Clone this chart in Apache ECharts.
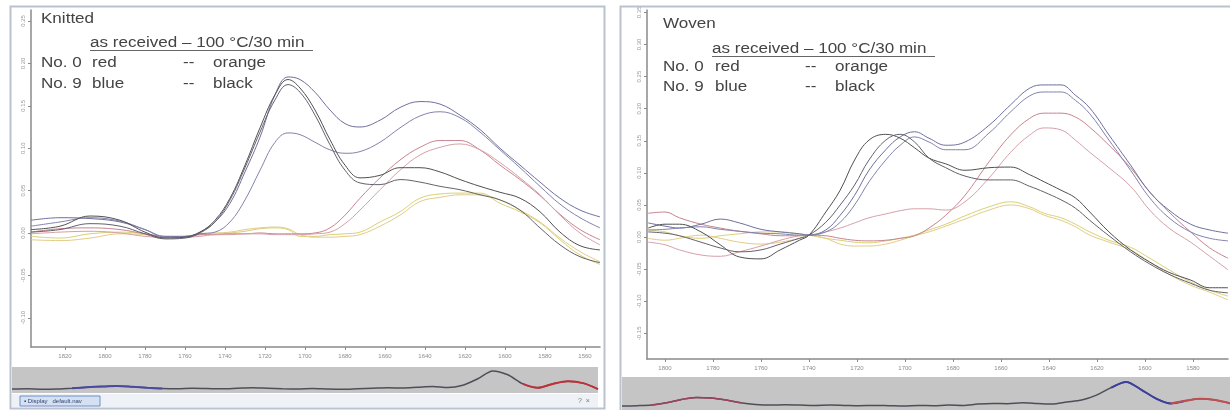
<!DOCTYPE html>
<html><head><meta charset="utf-8">
<script src="https://cdn.jsdelivr.net/npm/echarts@6/dist/echarts.min.js"></script>
<style>html,body{margin:0;padding:0;background:#fff}#c{width:1230px;height:410px}</style>
</head><body><div id="c"></div>
<script>
// ---------- Knitted (left) ----------
const wnKnit = [1837, 1822.5, 1807.5, 1792.5, 1780, 1770, 1760, 1752.5, 1745, 1737.5, 1730, 1722.5, 1715, 1708.5, 1702.5, 1695, 1687.5, 1680, 1672.5, 1662.5, 1652.5, 1642.5, 1632.5, 1622.5, 1612.5, 1602.5, 1592.5, 1582.5, 1572.5, 1562.5, 1552.5];
const knitBlue1 = [0.015, 0.018, 0.017, 0.013, 0.004, -0.004, -0.004, 0.001, 0.013, 0.035, 0.072, 0.113, 0.163, 0.184, 0.181, 0.166, 0.145, 0.129, 0.125, 0.133, 0.148, 0.155, 0.152, 0.139, 0.122, 0.100, 0.080, 0.060, 0.041, 0.027, 0.019];
const knitBlue2 = [0.008, 0.013, 0.018, 0.014, 0.004, -0.005, -0.005, -0.001, 0.001, 0.013, 0.039, 0.074, 0.107, 0.118, 0.116, 0.107, 0.098, 0.094, 0.096, 0.107, 0.124, 0.138, 0.143, 0.136, 0.119, 0.098, 0.077, 0.055, 0.034, 0.018, 0.006];
const knitBlack1 = [0.004, 0.008, 0.020, 0.015, 0.001, -0.006, -0.005, 0.001, 0.015, 0.041, 0.080, 0.124, 0.163, 0.181, 0.171, 0.145, 0.110, 0.080, 0.065, 0.068, 0.077, 0.077, 0.072, 0.063, 0.055, 0.048, 0.041, 0.025, 0.001, -0.015, -0.020];
const knitBlack2 = [0.001, 0.004, 0.011, 0.008, -0.001, -0.007, -0.006, 0, 0.013, 0.039, 0.077, 0.119, 0.157, 0.175, 0.166, 0.139, 0.104, 0.074, 0.059, 0.057, 0.063, 0.060, 0.055, 0.051, 0.045, 0.039, 0.027, 0.006, -0.014, -0.028, -0.035];
const knitRed1 = [0.001, 0.005, 0.006, 0.004, -0.001, -0.004, -0.004, -0.002, -0.002, -0.001, -0.001, 0, -0.001, -0.001, -0.001, 0, 0.006, 0.021, 0.041, 0.065, 0.086, 0.101, 0.109, 0.109, 0.098, 0.080, 0.063, 0.044, 0.022, 0.004, -0.008];
const knitRed2 = [-0.001, 0.001, 0.002, 0, -0.004, -0.005, -0.005, -0.004, -0.002, -0.002, -0.001, -0.001, -0.002, -0.002, -0.002, -0.001, 0.001, 0.011, 0.027, 0.051, 0.074, 0.092, 0.101, 0.105, 0.098, 0.083, 0.065, 0.045, 0.021, 0, -0.014];
const knitOrange1 = [-0.004, -0.006, -0.001, 0.001, -0.001, -0.005, -0.004, -0.002, -0.001, 0, 0.002, 0.005, 0.006, 0.004, -0.004, -0.004, -0.002, -0.001, 0.001, 0.013, 0.025, 0.041, 0.046, 0.047, 0.047, 0.035, 0.025, 0.012, -0.008, -0.026, -0.037];
const knitOrange2 = [-0.008, -0.009, -0.006, -0.001, -0.002, -0.005, -0.004, -0.001, 0, 0.001, 0.004, 0.006, 0.007, 0.005, -0.002, -0.005, -0.005, -0.004, -0.002, 0.008, 0.021, 0.037, 0.042, 0.045, 0.045, 0.039, 0.027, 0.013, -0.006, -0.022, -0.034];
const knitTicksX = [1820, 1800, 1780, 1760, 1740, 1720, 1700, 1680, 1660, 1640, 1620, 1600, 1580, 1560];
const knitTicksY = [-0.10, -0.05, 0, 0.05, 0.10, 0.15, 0.20, 0.25];

// ---------- Woven (right) ----------
const wnWoven = [1807, 1800, 1794, 1785, 1777, 1769, 1760, 1752, 1744, 1740, 1733, 1727, 1721, 1715, 1708, 1702, 1696, 1690, 1683, 1675, 1665, 1656, 1648, 1642, 1635, 1629, 1623, 1615, 1606, 1598, 1590, 1581, 1573, 1565.4];
const wovenBlack1 = [0.014, 0.020, 0.020, 0.008, -0.012, -0.031, -0.034, -0.020, -0.005, 0.003, 0.039, 0.073, 0.120, 0.151, 0.160, 0.154, 0.139, 0.123, 0.114, 0.104, 0.108, 0.109, 0.097, 0.086, 0.073, 0.061, 0.039, 0.008, -0.020, -0.039, -0.055, -0.067, -0.079, -0.079];
const wovenBlack2 = [0.008, 0.006, 0.002, -0.008, -0.017, -0.023, -0.020, -0.011, -0.002, 0.003, 0.023, 0.050, 0.081, 0.120, 0.151, 0.160, 0.148, 0.123, 0.108, 0.095, 0.089, 0.089, 0.079, 0.070, 0.058, 0.045, 0.026, 0.002, -0.023, -0.042, -0.058, -0.072, -0.083, -0.087];
const wovenBlue1 = [0.022, 0.017, 0.014, 0.020, 0.028, 0.022, 0.012, 0.008, 0.005, 0.003, 0.011, 0.034, 0.065, 0.104, 0.136, 0.156, 0.164, 0.154, 0.143, 0.148, 0.174, 0.206, 0.232, 0.237, 0.237, 0.221, 0.201, 0.159, 0.112, 0.070, 0.042, 0.020, 0.011, 0.006];
const wovenBlue2 = [0.011, 0.012, 0.014, 0.016, 0.012, 0.009, 0.006, 0.005, 0.003, 0.003, 0.008, 0.023, 0.050, 0.086, 0.120, 0.143, 0.156, 0.148, 0.136, 0.136, 0.162, 0.195, 0.220, 0.226, 0.226, 0.213, 0.192, 0.151, 0.104, 0.061, 0.030, 0.008, -0.002, -0.006];
const wovenRed1 = [0.037, 0.039, 0.030, 0.020, 0.014, 0.009, 0.005, 0.002, 0.002, 0.003, 0.002, -0.002, -0.005, -0.006, -0.005, -0.002, 0.002, 0.014, 0.034, 0.065, 0.117, 0.159, 0.185, 0.193, 0.193, 0.187, 0.171, 0.143, 0.108, 0.070, 0.039, 0.008, -0.017, -0.033];
const wovenRed2 = [-0.008, -0.012, -0.020, -0.028, -0.030, -0.023, -0.014, -0.005, 0.002, 0.003, 0.008, 0.014, 0.022, 0.030, 0.036, 0.041, 0.044, 0.044, 0.042, 0.055, 0.092, 0.132, 0.159, 0.170, 0.167, 0.151, 0.132, 0.108, 0.079, 0.042, 0.014, -0.008, -0.030, -0.051];
const wovenOrange1 = [0.011, 0.008, 0.002, -0.002, 0.002, 0.005, 0.008, 0.008, 0.005, 0.003, -0.002, -0.005, -0.008, -0.009, -0.006, -0.002, 0.003, 0.011, 0.020, 0.033, 0.047, 0.055, 0.047, 0.037, 0.030, 0.020, 0.008, -0.005, -0.016, -0.033, -0.051, -0.070, -0.083, -0.092];
const wovenOrange2 = [-0.002, -0.005, -0.002, 0.003, -0.002, -0.008, -0.011, -0.008, -0.002, 0.003, -0.002, -0.011, -0.014, -0.014, -0.011, -0.005, 0.002, 0.008, 0.017, 0.028, 0.042, 0.050, 0.044, 0.034, 0.026, 0.016, 0.003, -0.008, -0.020, -0.039, -0.058, -0.075, -0.086, -0.098];
const wovenTicksX = [1800, 1780, 1760, 1740, 1720, 1700, 1680, 1660, 1640, 1620, 1600, 1580];
const wovenTicksY = [-0.15, -0.10, -0.05, 0, 0.05, 0.10, 0.15, 0.20, 0.25, 0.30, 0.35];

// ---------- overview strips ----------
const overviewKnit = [0.15, 0.16, 0.14, 0.15, 0.18, 0.22, 0.25, 0.27, 0.24, 0.20, 0.17, 0.16, 0.18, 0.17, 0.16, 0.18, 0.20, 0.18, 0.16, 0.15, 0.17, 0.15, 0.14, 0.16, 0.18, 0.20, 0.19, 0.22, 0.25, 0.21, 0.30, 0.55, 0.85, 0.70, 0.35, 0.20, 0.35, 0.45, 0.38, 0.15];
const overviewWoven = [0.12, 0.13, 0.15, 0.22, 0.32, 0.38, 0.36, 0.30, 0.22, 0.17, 0.15, 0.16, 0.15, 0.14, 0.15, 0.14, 0.13, 0.14, 0.13, 0.12, 0.14, 0.13, 0.15, 0.14, 0.18, 0.20, 0.19, 0.22, 0.20, 0.18, 0.24, 0.30, 0.45, 0.68, 0.85, 0.62, 0.35, 0.20, 0.28, 0.34, 0.30, 0.20];
const knitRedRange = [34, 39], knitBlueRange = [4, 10];
const wovenRedRange = [37, 41], wovenBlueRange = [33, 38], wovenRed2Range = [2, 8];

const FONT = 'Arial, "Liberation Sans", sans-serif';
const C = {blue1:'#6f6f9e', blue2:'#8383ad', black1:'#505050', black2:'#62626c', red1:'#c9838f', red2:'#d6a0a9', orange1:'#d8d274', orange2:'#e3cc86'};

function pairs(xs, ys){ return xs.map((x,i)=>[x, ys[i]]); }
function rangeOnly(arr, r){ return arr.map((v,i)=> (i>=r[0] && i<=r[1]) ? v : null); }
function line(name, xs, ys, color, ax){
  return {name, type:'line', xAxisIndex:ax, yAxisIndex:ax, data:pairs(xs, ys), showSymbol:false, smooth:0.4,
    lineStyle:{width:1, color}, itemStyle:{color}, z:3};
}
function strip(arr, color, ax, w){
  return {type:'line', xAxisIndex:ax, yAxisIndex:ax, data:arr, showSymbol:false, smooth:0.3,
    lineStyle:{width:w, color}, connectNulls:false, silent:true};
}
const axisGray = '#8a8a8a';
function mainX(idx, min, max, ticks){
  return {type:'value', gridIndex:idx, min, max, inverse:true, position:'bottom',
    axisLine:{show:true, onZero:false, lineStyle:{color:axisGray, width:1.5}},
    axisTick:{show:true, length:3, customValues:ticks, lineStyle:{color:axisGray}},
    axisLabel:{customValues:ticks, fontSize:6, color:'#8c8c8c', margin:6, fontFamily:FONT, formatter:v=>String(v)},
    splitLine:{show:false}};
}
function mainY(idx, min, max, ticks){
  return {type:'value', gridIndex:idx, min, max, position:'left',
    axisLine:{show:true, onZero:false, lineStyle:{color:axisGray, width:1.5}},
    axisTick:{show:true, length:3, customValues:ticks, lineStyle:{color:axisGray}},
    axisLabel:{customValues:ticks, fontSize:6, color:'#9a9a9a', margin:5, rotate:90, fontFamily:FONT,
      formatter:v=>v.toFixed(2)},
    splitLine:{show:false}};
}
function hidX(idx, n){ return {type:'category', gridIndex:idx, data:Array.from({length:n},(_, i)=>i), boundaryGap:false, show:false}; }
function hidY(idx){ return {type:'value', gridIndex:idx, min:0, max:1, show:false}; }

function t(x, y, s){ return {type:'text', x, y, scaleX:1.1, z:10, style:{text:s, fontSize:15.5, fontFamily:FONT, fill:'#444', verticalAlign:'middle'}}; }

const chart = echarts.init(document.getElementById('c'), null, {renderer:'canvas'});
chart.setOption({
  animation:false,
  backgroundColor:'#ffffff',
  grid:[
    {left:31, top:10, width:569, height:337},
    {left:647, top:10, width:581, height:349},
    {left:12, top:367, width:586, height:26, show:true, backgroundColor:'#c5c5c5', borderWidth:0},
    {left:622, top:377, width:608, height:33, show:true, backgroundColor:'#c5c5c5', borderWidth:0}
  ],
  xAxis:[
    mainX(0, 1552.5, 1837, knitTicksX),
    mainX(1, 1565.4, 1807.5, wovenTicksX),
    hidX(2, overviewKnit.length),
    hidX(3, overviewWoven.length)
  ],
  yAxis:[
    mainY(0, -0.1345, 0.263, knitTicksY),
    mainY(1, -0.190, 0.3537, wovenTicksY),
    hidY(2), hidY(3)
  ],
  series:[
    line('No. 0 orange a', wnKnit, knitOrange1, C.orange1, 0),
    line('No. 0 orange b', wnKnit, knitOrange2, C.orange2, 0),
    line('No. 0 red a', wnKnit, knitRed1, C.red1, 0),
    line('No. 0 red b', wnKnit, knitRed2, C.red2, 0),
    line('No. 9 blue a', wnKnit, knitBlue1, C.blue1, 0),
    line('No. 9 blue b', wnKnit, knitBlue2, C.blue2, 0),
    line('No. 9 black a', wnKnit, knitBlack1, C.black1, 0),
    line('No. 9 black b', wnKnit, knitBlack2, C.black2, 0),

    line('No. 0 orange a', wnWoven, wovenOrange1, C.orange1, 1),
    line('No. 0 orange b', wnWoven, wovenOrange2, C.orange2, 1),
    line('No. 0 red a', wnWoven, wovenRed1, C.red1, 1),
    line('No. 0 red b', wnWoven, wovenRed2, C.red2, 1),
    line('No. 9 blue a', wnWoven, wovenBlue1, C.blue1, 1),
    line('No. 9 blue b', wnWoven, wovenBlue2, C.blue2, 1),
    line('No. 9 black a', wnWoven, wovenBlack1, C.black1, 1),
    line('No. 9 black b', wnWoven, wovenBlack2, C.black2, 1),

    strip(overviewKnit, '#4e4e58', 2, 1.5),
    strip(rangeOnly(overviewKnit, knitRedRange), '#c0303a', 2, 2),
    strip(rangeOnly(overviewKnit, knitBlueRange), '#4a4aa0', 2, 2),
    strip(overviewWoven, '#4e4e58', 3, 1.5),
    strip(rangeOnly(overviewWoven, wovenBlueRange), '#3e3ea0', 3, 2),
    strip(rangeOnly(overviewWoven, wovenRedRange), '#c05050', 3, 2),
    strip(rangeOnly(overviewWoven, wovenRed2Range), '#a04060', 3, 1.5)
  ],
  graphic:[
    {type:'rect', z:20, shape:{x:10.5, y:6.5, width:594, height:402}, style:{fill:'none', stroke:'#b9c3cf', lineWidth:2}},
    {type:'rect', z:20, shape:{x:620.5, y:6.5, width:620, height:410}, style:{fill:'none', stroke:'#b9c3cf', lineWidth:2}},
    {type:'rect', z:5, shape:{x:12, y:394, width:586, height:13}, style:{fill:'#eef1f5'}},
    {type:'rect', z:6, shape:{x:20, y:396, width:80, height:10}, style:{fill:'#d5e1f3', stroke:'#6f8fc8', lineWidth:1}},
    {type:'text', z:7, x:24, y:401, style:{text:'▪ Display   default.nav', fontSize:6, fontFamily:FONT, fill:'#2f3f70', verticalAlign:'middle'}},
    {type:'text', z:7, x:578, y:401, style:{text:'?  ×', fontSize:7, fontFamily:FONT, fill:'#777', verticalAlign:'middle'}},
    t(41, 19, 'Knitted'),
    t(90, 43, 'as received – 100 °C/30 min'),
    {type:'line', z:10, shape:{x1:90, y1:50.5, x2:313, y2:50.5}, style:{stroke:'#666', lineWidth:1}},
    t(41, 63, 'No. 0'), t(92, 63, 'red'), t(183, 63, '--'), t(213, 63, 'orange'),
    t(41, 84, 'No. 9'), t(92, 84, 'blue'), t(183, 84, '--'), t(213, 84, 'black'),
    t(663, 24, 'Woven'),
    t(712, 49, 'as received – 100 °C/30 min'),
    {type:'line', z:10, shape:{x1:712, y1:56.5, x2:935, y2:56.5}, style:{stroke:'#666', lineWidth:1}},
    t(663, 67, 'No. 0'), t(715, 67, 'red'), t(805, 67, '--'), t(835, 67, 'orange'),
    t(663, 87, 'No. 9'), t(715, 87, 'blue'), t(805, 87, '--'), t(835, 87, 'black')
  ]
});
</script></body></html>
